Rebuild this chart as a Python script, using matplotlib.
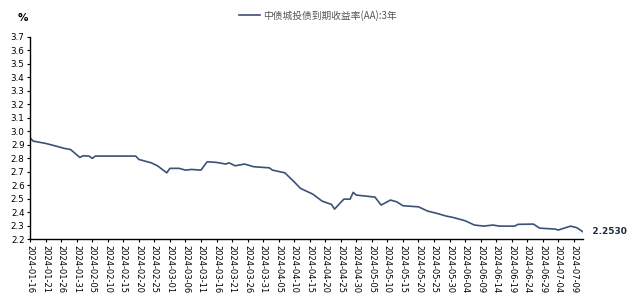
import matplotlib
matplotlib.use("Agg")
import matplotlib.pyplot as plt
import pandas as pd

plt.rcParams['font.family'] = ['Noto Sans CJK SC', 'DejaVu Sans']

dates = ["2024-01-16", "2024-01-17", "2024-01-21", "2024-01-24", "2024-01-27", "2024-01-29",
         "2024-02-01", "2024-02-02", "2024-02-04", "2024-02-05", "2024-02-06", "2024-02-19",
         "2024-02-20", "2024-02-24", "2024-02-26", "2024-02-29", "2024-03-01", "2024-03-04",
         "2024-03-06", "2024-03-08", "2024-03-11", "2024-03-13", "2024-03-16", "2024-03-19",
         "2024-03-20", "2024-03-22", "2024-03-25", "2024-03-28", "2024-04-02", "2024-04-03",
         "2024-04-07", "2024-04-10", "2024-04-12", "2024-04-16", "2024-04-19", "2024-04-22",
         "2024-04-23", "2024-04-25", "2024-04-26", "2024-04-28", "2024-04-29", "2024-04-30",
         "2024-05-06", "2024-05-08", "2024-05-11", "2024-05-13", "2024-05-15", "2024-05-20",
         "2024-05-23", "2024-05-26", "2024-05-29", "2024-05-31", "2024-06-04", "2024-06-07",
         "2024-06-10", "2024-06-13", "2024-06-15", "2024-06-20", "2024-06-21", "2024-06-26",
         "2024-06-28", "2024-07-03", "2024-07-04", "2024-07-08", "2024-07-10", "2024-07-12"]
yields = [2.950, 2.926, 2.909, 2.891, 2.872, 2.864,
          2.805, 2.817, 2.815, 2.798, 2.815, 2.815,
          2.790, 2.765, 2.743, 2.691, 2.724, 2.724,
          2.711, 2.716, 2.711, 2.773, 2.768, 2.756,
          2.765, 2.743, 2.756, 2.736, 2.728, 2.711,
          2.691, 2.624, 2.576, 2.533, 2.481, 2.457,
          2.422, 2.472, 2.496, 2.496, 2.546, 2.526,
          2.511, 2.452, 2.489, 2.476, 2.447, 2.439,
          2.407, 2.390, 2.370, 2.361, 2.336, 2.304,
          2.296, 2.304, 2.296, 2.296, 2.309, 2.311,
          2.281, 2.274, 2.267, 2.296, 2.284, 2.253]
last_label = "2.2530"
series_name = "中债城投债到期收益率(AA):3年"

x = pd.to_datetime(dates)
ticks = pd.date_range("2024-01-16", "2024-07-09", freq="5D")

fig = plt.figure(figsize=(6.27, 3.03), dpi=100)
ax = fig.add_axes([0.048, 0.211, 0.882, 0.668])
ax.plot(x, yields, "-", color="#3a5275", lw=1.2, label=series_name)

ax.set_xlim(x[0], x[-1])
ax.set_ylim(2.2, 3.7)
ax.set_yticks([2.2 + 0.1 * i for i in range(16)])
ax.set_yticklabels([f"{2.2 + 0.1 * i:.1f}" for i in range(16)], fontsize=6.3, family="DejaVu Sans")
ax.set_xticks(ticks)
ax.set_xticklabels([t.strftime("%Y-%m-%d") for t in ticks], rotation=270, fontsize=6,
                   family="DejaVu Sans")
ax.tick_params(axis="both", length=2.5, width=0.8, pad=1.5, colors="black")
for s in ["top", "right"]:
    ax.spines[s].set_visible(False)
for s in ["left", "bottom"]:
    ax.spines[s].set_linewidth(1.0)

ax.text(x[-1], yields[-1], "   " + last_label, fontsize=6.5, fontweight="bold", color="#1f2a44",
        va="center", ha="left", family="DejaVu Sans")
fig.text(0.037, 0.94, "%", fontsize=7.5, fontweight="bold", ha="center", va="center",
         family="DejaVu Sans")
fig.legend(loc="center left", bbox_to_anchor=(0.375, 0.95), frameon=False, fontsize=7,
           handlelength=2.2, handletextpad=0.3, labelcolor="#555555", borderaxespad=0)

fig.savefig("out.png", dpi=100)
